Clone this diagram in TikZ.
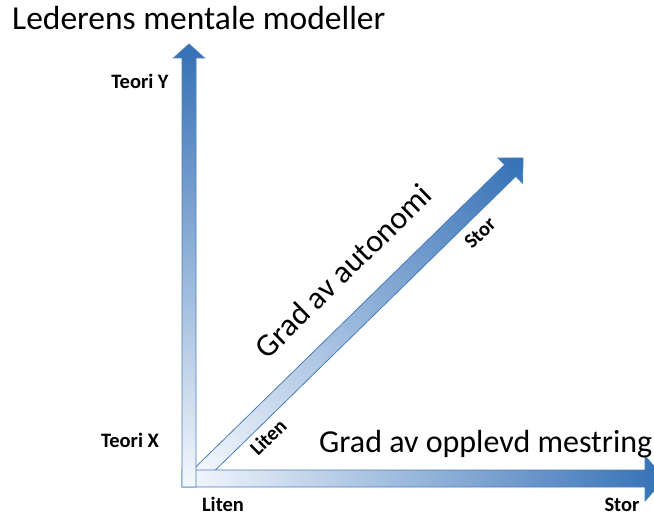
\documentclass[tikz,border=0pt]{standalone}
\usepackage{fontspec}
\setmainfont{Carlito}
\usepackage{tikz}

\definecolor{axlight}{RGB}{245,248,253}
\definecolor{axdark}{RGB}{52,112,182}
\definecolor{axline}{RGB}{74,126,187}

\tikzset{
  axisarrow/.style={draw=axline, line width=0.8pt, left color=axlight, right color=axdark},
  ticklabel/.style={font=\fontsize{20.5}{24}\selectfont\bfseries, inner sep=0pt},
  axislabel/.style={font=\fontsize{32}{38}\selectfont, inner sep=0pt}
}

\begin{document}
\begin{tikzpicture}[x=1pt,y=1pt]
  \useasboundingbox (0,0) rectangle (654,515);
  % Autonomi
  \begin{scope}[transform canvas={shift={(200pt,41pt)},rotate=44.37}]
    \shade[axisarrow] (0,-8) -- (434,-8) -- (434,-17.5) -- (452,0) -- (434,17.5) -- (434,8) -- (0,8) -- cycle;
  \end{scope}
  % Mestring
  \begin{scope}[transform canvas={shift={(182pt,36.5pt)}}]
    \shade[axisarrow] (0,-8.5) -- (463,-8.5) -- (463,-22.5) -- (483,0) -- (463,22.5) -- (463,8.5) -- (0,8.5) -- cycle;
  \end{scope}
  % Teori X / Y
  \begin{scope}[transform canvas={shift={(189pt,28pt)},rotate=90}]
    \shade[axisarrow] (0,-7) -- (429,-7) -- (429,-15.5) -- (443,0) -- (429,15.5) -- (429,7) -- (0,7) -- cycle;
  \end{scope}

  \node[axislabel, anchor=base west, font=\fontsize{33.5}{38}\selectfont] (title) at (12,485) {Lederens mentale modeller};
  \node[ticklabel] (teoriY) at (140,434) {Teori Y};
  \node[ticklabel] (teoriX) at (130,75) {Teori X};
  \node[ticklabel] (litenH) at (223,11) {Liten};
  \node[ticklabel] (storH) at (622,10) {Stor};
  \node[ticklabel, rotate=44.37] (litenD) at (268,78) {Liten};
  \node[ticklabel, rotate=44.37] (storD) at (480,282) {Stor};
  \node[axislabel, rotate=44.37] (autonomi) at (343,244) {Grad av autonomi};
  \node[axislabel, anchor=base west] (mestring) at (319,63) {Grad av opplevd mestring};
\end{tikzpicture}
\end{document}
